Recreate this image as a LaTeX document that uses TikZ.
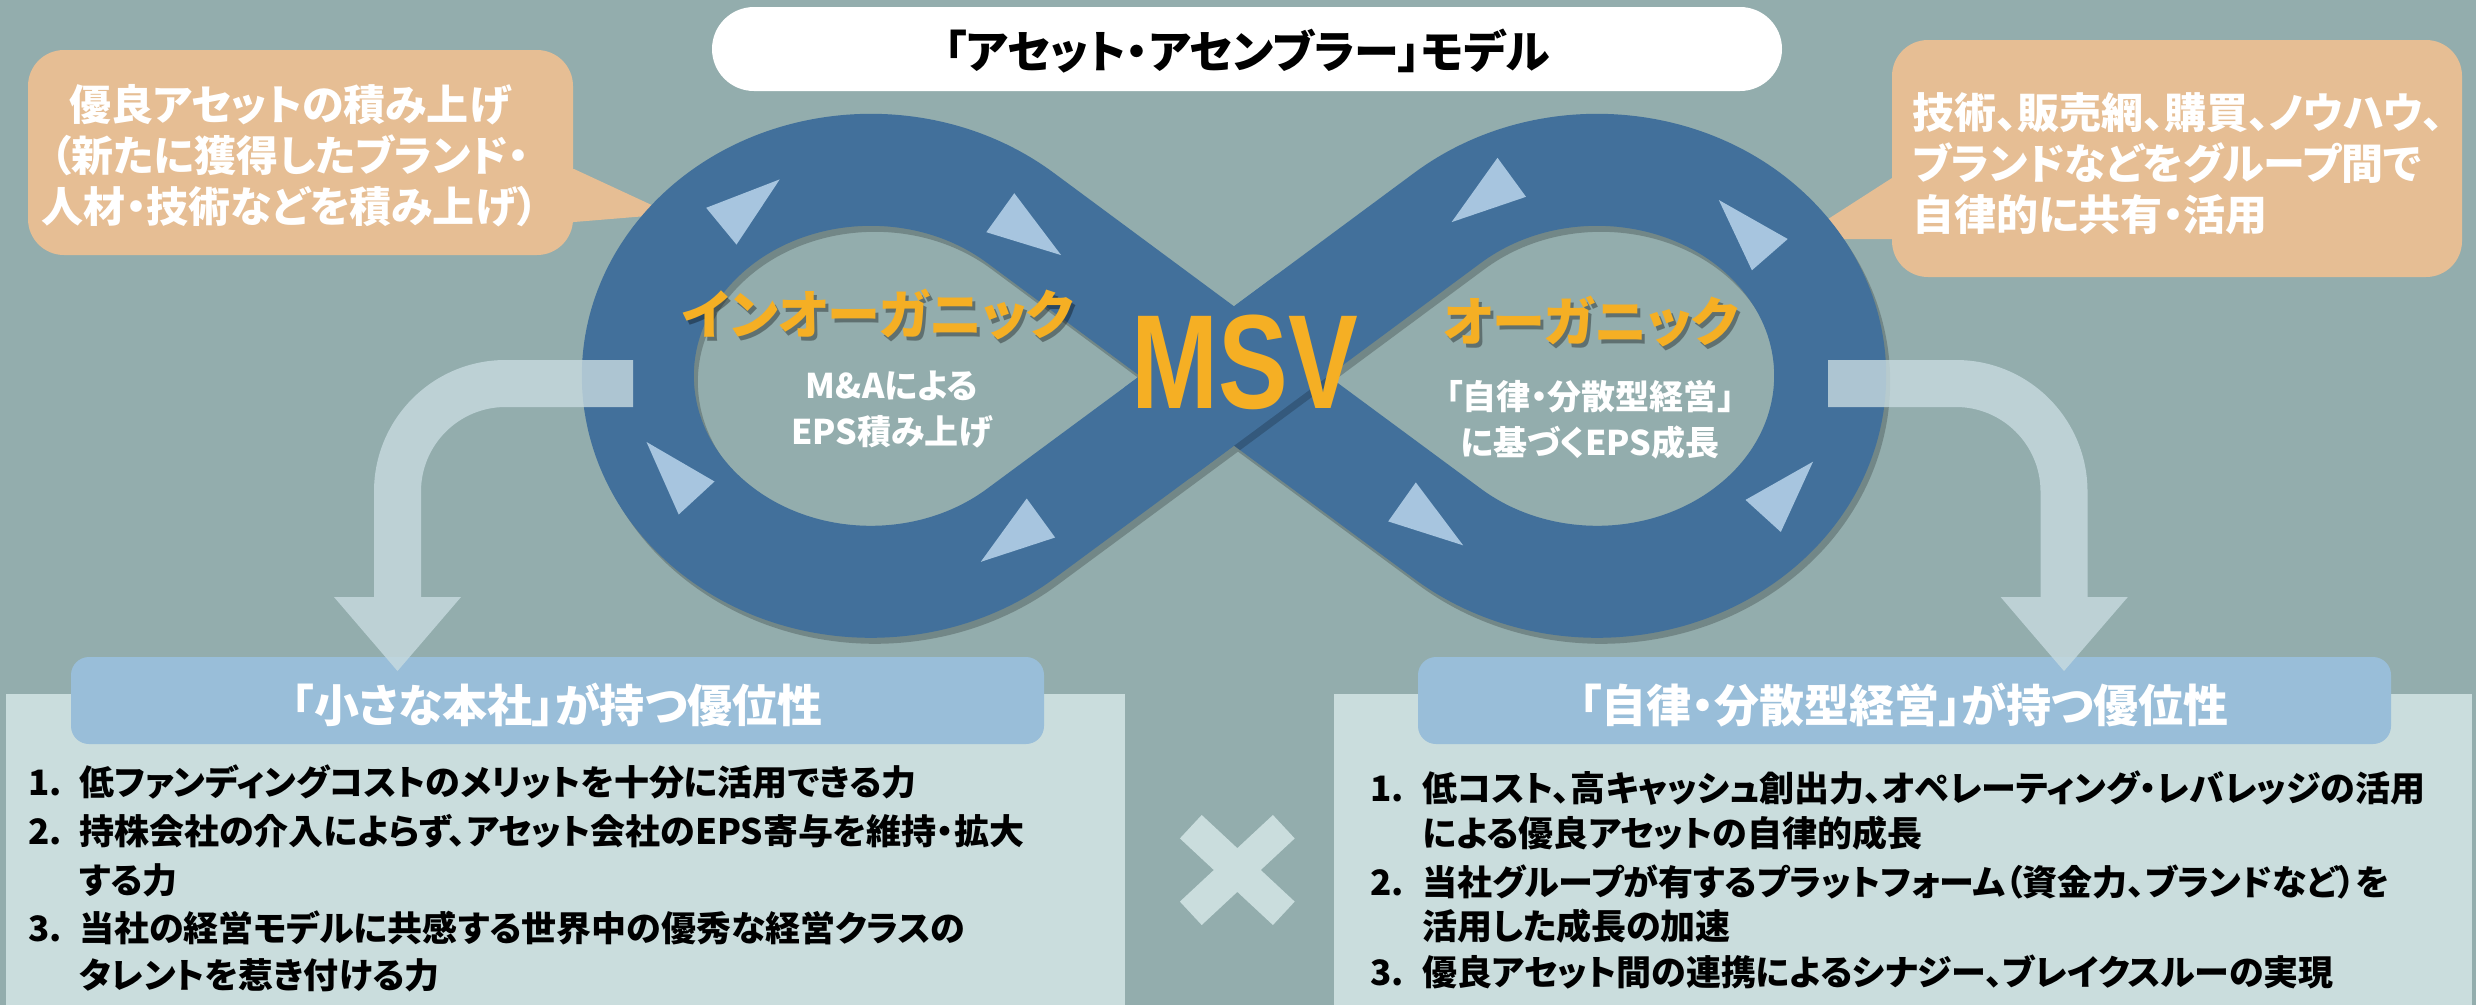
\documentclass[tikz,border=0pt]{standalone}
\usepackage{graphicx}
\usepackage{fontspec}
\setmainfont{Noto Sans CJK JP}[RawFeature=+palt]
\newfontfamily\msvfont{Liberation Sans}
\newcommand\setfs[2]{\fontsize{#1}{#2}\selectfont}
\definecolor{bgc}{HTML}{93ADAD}
\definecolor{bandc}{HTML}{42709B}
\definecolor{tric}{HTML}{A7C5DF}
\definecolor{callc}{HTML}{E6BE94}
\definecolor{headc}{HTML}{99BED9}
\definecolor{panelc}{HTML}{CADDDD}
\definecolor{orangec}{HTML}{F5AF24}
\definecolor{arrowc}{HTML}{C8DBE0}
\begin{document}
\begin{tikzpicture}[x=1pt,y=-1pt,
  bandshadow/.style={draw=black, draw opacity=0.22, line width=112, line join=round, shift={(4,6)}},
  bandfill/.style={draw=bandc, line width=112, line join=round},
  tri/.style={fill=tric},
  arrowfill/.style={fill=arrowc, fill opacity=0.8},
  titletxt/.style={inner sep=0pt, font=\setfs{45}{50}\bfseries, text=black},
  calltxt/.style={inner sep=0pt, font=\setfs{42}{51}\bfseries, text=white, align=center},
  rcalltxt/.style={inner sep=0pt, font=\setfs{42}{51}\bfseries, text=white, align=left, anchor=west},
  holetitle/.style={inner sep=0pt, font=\setfs{53}{60}\bfseries, text=orangec},
  holeshadow/.style={inner sep=0pt, font=\setfs{53}{60}\bfseries, text=black, text opacity=0.35},
  holetxt/.style={inner sep=0pt, font=\setfs{34}{46}\bfseries, text=white, align=center},
  headtxt/.style={inner sep=0pt, font=\setfs{45}{50}\bfseries, text=white},
  listtxt/.style={inner sep=0pt, anchor=west, font=\setfs{35}{40}\bfseries, text=black, text height=30.8pt, text depth=4.2pt}
]
\useasboundingbox (0,0) rectangle (2476,1005);
\fill[bgc] (0,0) rectangle (2476,1005);

% bottom panels and headers
\fill[panelc] (6,694) rectangle (1125,1005);
\fill[panelc] (1334,694) rectangle (2472,1005);
\fill[headc, rounded corners=18] (71,657) rectangle (1044,744);
\fill[headc, rounded corners=18] (1418,657) rectangle (2391,744);

% title box
\fill[white, rounded corners=42] (712,7) rectangle (1782,91);
\node[titletxt] (title) at (1247,51) {「アセット・アセンブラー」モデル};

% callouts
\fill[callc, rounded corners=36] (28,50) rectangle (573,255);
\fill[callc] (550,169) -- (574,169) -- (671,214) -- (574,222) -- (550,222) -- cycle;
\fill[callc, rounded corners=36] (1892,40) rectangle (2462,277);
\fill[callc] (1910,178) -- (1892,178) -- (1797,239) -- (1910,239) -- cycle;
\node[calltxt] (lcall) at (290,156) {優良アセットの積み上げ\\（新たに獲得したブランド・\\人材・技術などを積み上げ）};
\node[rcalltxt] (rcall) at (1912,164) {技術、販売網、購買、ノウハウ、\\ブランドなどをグループ間で\\自律的に共有・活用};

% infinity band
\foreach \s in {bandshadow,bandfill}{
  \draw[\s] (1234,376) -- (1020.6,218)
    arc[start angle=310, end angle=50, x radius=233, y radius=206]
    -- (1234,376) -- (1447.4,218)
    arc[start angle=230, end angle=490, x radius=233, y radius=206]
    -- cycle;
}
% upper strand at the crossing, its shadow only on the lower strand
\begin{scope}
  \clip (1321.3,510.3) -- (1387.9,420.3) -- (1146.7,241.8) -- (1080.1,331.8) -- cycle;
  \draw[draw=black, draw opacity=0.2, line width=112, shift={(4,6)}] (1157.6,432.5) -- (1310.4,319.5);
\end{scope}
\draw[draw=bandc, line width=112] (1157.6,432.5) -- (1310.4,319.5);

% direction triangles
\fill[tri] (779.7,179.4) -- (706.2,207.8) -- (736.5,244.6) -- cycle;
\fill[tri] (1014.3,193.2) -- (986.3,232.2) -- (1061.1,255.1) -- cycle;
\fill[tri] (1026.7,498.5) -- (980.8,561.8) -- (1055.1,537.5) -- cycle;
\fill[tri] (646.5,442) -- (714.5,481.5) -- (678.7,514.5) -- cycle;
\fill[tri] (1497.5,157.8) -- (1451.6,222.1) -- (1526,196.8) -- cycle;
\fill[tri] (1718.8,200) -- (1787.7,239) -- (1751.9,270.3) -- cycle;
\fill[tri] (1813,461.7) -- (1745.5,499.9) -- (1780.8,532) -- cycle;
\fill[tri] (1415.8,482.4) -- (1388.2,521.4) -- (1463.1,545.3) -- cycle;

% texts inside the loops
\node[holeshadow] (inorgs) at (881,319) {インオーガニック};
\node[holetitle] (inorg) at (878,315) {インオーガニック};
\node[holetxt] (ma) at (892,410) {M\&Aによる\\EPS積み上げ};
\node[holeshadow] (orgs) at (1594,326) {オーガニック};
\node[holetitle] (org) at (1591,322) {オーガニック};
\node[holetxt] (jr) at (1590,420) {「自律・分散型経営」\\に基づくEPS成長};
\node[inner sep=0pt, text=orangec] (msv) at (1245,362) {\scalebox{0.78}[1]{\msvfont\bfseries\setfs{134}{134}MSV}};

% arrows
\fill[arrowfill] (633,360) -- (505.5,360) arc[start angle=-90, end angle=-180, radius=131.5]
  -- (374,597) -- (334,597) -- (397.5,671) -- (461,597) -- (421,597) -- (421,491.5)
  arc[start angle=180, end angle=270, radius=84.5] -- (633,407) -- cycle;
\fill[arrowfill] (1828,360) -- (1956,360) arc[start angle=-90, end angle=0, radius=131.5]
  -- (2087.5,597) -- (2127.8,597) -- (2064,671) -- (2000.6,597) -- (2040.5,597) -- (2040.5,491.5)
  arc[start angle=0, end angle=-90, radius=84.5] -- (1828,407) -- cycle;

% header texts
\node[headtxt] (lhead) at (557,705) {「小さな本社」が持つ優位性};
\node[headtxt] (rhead) at (1904,705) {「自律・分散型経営」が持つ優位性};

% left list
\node[listtxt] (l1n) at (28,782) {1.};
\node[listtxt] (l1) at (79,782) {低ファンディングコストのメリットを十分に活用できる力};
\node[listtxt] (l2n) at (28,831) {2.};
\node[listtxt] (l2) at (79,831) {持株会社の介入によらず、アセット会社のEPS寄与を維持・拡大};
\node[listtxt] (l2b) at (79,880) {する力};
\node[listtxt] (l3n) at (28,928) {3.};
\node[listtxt] (l3) at (79,928) {当社の経営モデルに共感する世界中の優秀な経営クラスの};
\node[listtxt] (l3b) at (79,975) {タレントを惹き付ける力};

% right list
\node[listtxt] (r1n) at (1370,788) {1.};
\node[listtxt] (r1) at (1422,788) {低コスト、高キャッシュ創出力、オペレーティング・レバレッジの活用};
\node[listtxt] (r1b) at (1422,833) {による優良アセットの自律的成長};
\node[listtxt] (r2n) at (1370,882) {2.};
\node[listtxt] (r2) at (1422,882) {当社グループが有するプラットフォーム（資金力、ブランドなど）を};
\node[listtxt] (r2b) at (1422,926) {活用した成長の加速};
\node[listtxt] (r3n) at (1370,972) {3.};
\node[listtxt] (r3) at (1422,972) {優良アセット間の連携によるシナジー、ブレイクスルーの実現};

% multiplication mark
\draw[panelc, line width=32] (1190.8,826.7) -- (1283.8,913.3) (1283.8,826.7) -- (1190.8,913.3);
\end{tikzpicture}
\end{document}
